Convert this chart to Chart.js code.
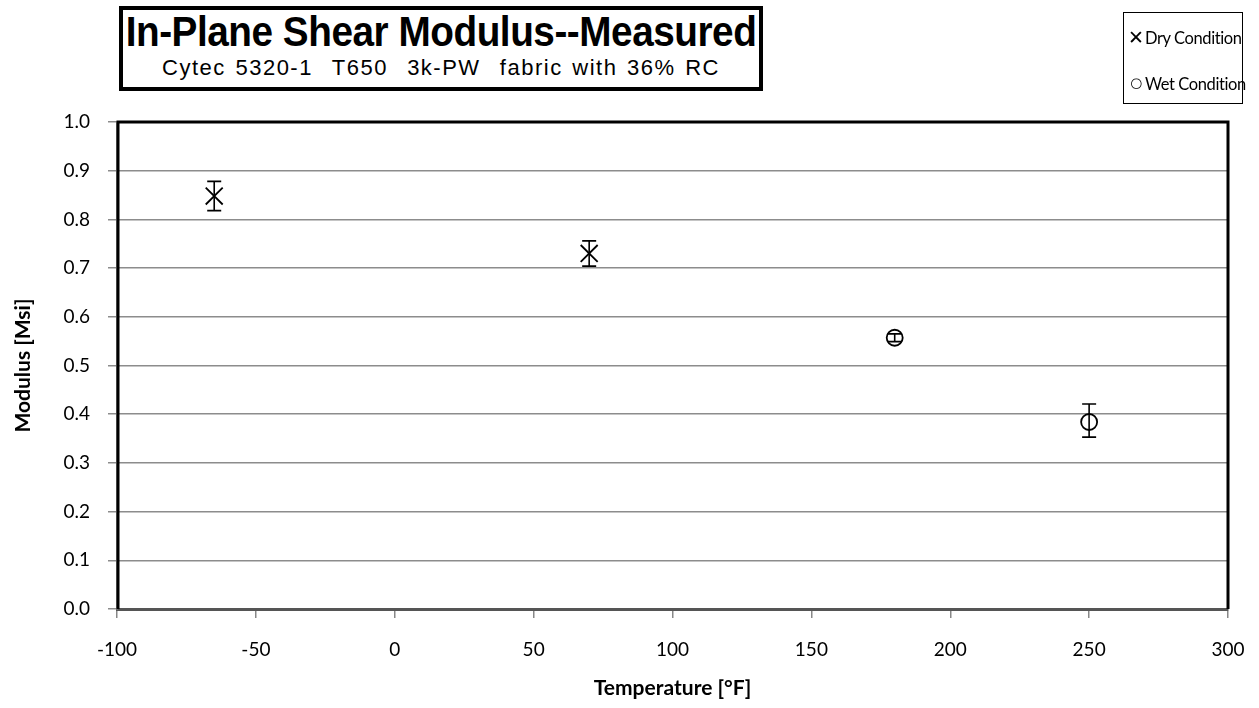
<!DOCTYPE html>
<html>
<head>
<meta charset="utf-8">
<script src="https://cdn.jsdelivr.net/npm/chart.js@4.4.1/dist/chart.umd.min.js"></script>
<style>
  html, body { margin: 0; padding: 0; background: #fff; }
  #wrap { position: relative; width: 1259px; height: 708px; }
  #titleBox {
    position: absolute; left: 119px; top: 6px; width: 636px; height: 77px;
    border: 4px solid #000; background: #fff;
    font-family: "Liberation Sans", Arial, sans-serif; color: #000; overflow: hidden;
  }
  #titleBox .main {
    position: absolute; left: 50%; top: -1px;
    font-weight: bold; font-size: 43px; line-height: 44px;
    white-space: nowrap; transform: translateX(-50%) scaleX(0.9);
    letter-spacing: -0.5px;
  }
  #titleBox .sub {
    position: absolute; left: 0; right: 0; top: 45px; text-align: center;
    font-size: 22px; line-height: 26px; white-space: pre; letter-spacing: 1.5px; word-spacing: 2px;
  }
  #legendBox {
    position: absolute; left: 1123px; top: 12px; width: 118px; height: 90px;
    border: 1.5px solid #000; background: #fff;
    font-family: Lato, "Open Sans", sans-serif; font-size: 16.5px; color: #000;
    letter-spacing: -0.4px;
  }
  #legendBox div { position: absolute; left: 3px; white-space: nowrap; }
  #legendBox span { display: inline-block; width: 18px; font-size: 19px; text-align: center; font-weight: 300; }
</style>
</head>
<body>
<div id="wrap">
  <canvas id="chart" width="1259" height="708"></canvas>
  <div id="titleBox">
    <div class="main">In-Plane Shear Modulus--Measured</div>
    <div class="sub">Cytec 5320-1  T650  3k-PW  fabric with 36% RC</div>
  </div>
  <div id="legendBox">
    <div style="top:12px"><span>&#x2715;</span>Dry Condition</div>
    <div style="top:58px"><span>&#x25CB;</span>Wet Condition</div>
  </div>
</div>
<script>
// data
const dryTemp = [-65, 70];
const dryModulus = [0.848, 0.730];
const dryLow = [0.818, 0.704];
const dryHigh = [0.878, 0.756];

const wetTemp = [180, 250];
const wetModulus = [0.557, 0.384];
const wetLow = [0.549, 0.353];
const wetHigh = [0.565, 0.421];

const xTicks = [-100, -50, 0, 50, 100, 150, 200, 250, 300];
const yTicks = [0, 0.1, 0.2, 0.3, 0.4, 0.5, 0.6, 0.7, 0.8, 0.9, 1.0];

function toPoints(xs, ys, lo, hi) {
  return xs.map((x, i) => ({ x: x, y: ys[i], lo: lo[i], hi: hi[i] }));
}

// error bars + black frame on top/right
const extras = {
  id: 'extras',
  beforeDatasetsDraw(chart) {
    const c = chart.ctx;
    const xs = chart.scales.x, ys = chart.scales.y;
    c.save();
    c.strokeStyle = '#000';
    c.lineWidth = 1.6;
    chart.data.datasets.forEach(ds => {
      ds.data.forEach(p => {
        const px = xs.getPixelForValue(p.x);
        const y1 = ys.getPixelForValue(p.lo);
        const y2 = ys.getPixelForValue(p.hi);
        c.beginPath();
        c.moveTo(px, y1); c.lineTo(px, y2);
        c.moveTo(px - 7, y1); c.lineTo(px + 7, y1);
        c.moveTo(px - 7, y2); c.lineTo(px + 7, y2);
        c.stroke();
      });
    });
    c.restore();
  },
  afterDraw(chart) {
    const a = chart.chartArea;
    const c = chart.ctx;
    c.save();
    c.strokeStyle = '#000';
    c.lineWidth = 3;
    c.beginPath();
    c.moveTo(a.left + 1, a.bottom);
    c.lineTo(a.left + 1, a.top);
    c.lineTo(a.right, a.top);
    c.lineTo(a.right, a.bottom);
    c.stroke();
    c.restore();
  }
};

new Chart(document.getElementById('chart'), {
  type: 'scatter',
  data: {
    datasets: [
      {
        label: 'Dry Condition',
        data: toPoints(dryTemp, dryModulus, dryLow, dryHigh),
        pointStyle: 'crossRot',
        pointRadius: 12,
        pointBorderWidth: 1.8,
        borderColor: '#000',
        backgroundColor: '#000'
      },
      {
        label: 'Wet Condition',
        data: toPoints(wetTemp, wetModulus, wetLow, wetHigh),
        pointStyle: 'circle',
        pointRadius: 8,
        pointBorderWidth: 1.8,
        borderColor: '#000',
        backgroundColor: 'rgba(255,255,255,0)'
      }
    ]
  },
  options: {
    responsive: false,
    animation: false,
    layout: { padding: { top: 122, right: 31, left: 0, bottom: 0 } },
    plugins: {
      legend: { display: false },
      tooltip: { enabled: false }
    },
    scales: {
      x: {
        type: 'linear',
        min: -100, max: 300,
        afterBuildTicks: s => { s.ticks = xTicks.map(v => ({ value: v })); },
        afterFit: s => { s.height = 99; s.paddingLeft = 0; s.paddingRight = 0; },
        grid: { display: true, drawOnChartArea: false, color: '#888', tickLength: 9, lineWidth: 1.5 },
        border: { color: '#555', width: 3 },
        ticks: { color: '#000', font: { family: 'Lato', size: 19 }, padding: 20 },
        title: {
          display: true, text: 'Temperature [°F]', color: '#000',
          font: { family: 'Lato', size: 21, weight: 'bold' }, padding: { top: 4, bottom: 7 }
        }
      },
      y: {
        type: 'linear',
        min: 0, max: 1.0,
        afterBuildTicks: s => { s.ticks = yTicks.map(v => ({ value: v })); },
        afterFit: s => { s.width = 117; },
        grid: { color: '#8c8c8c', tickLength: 9, lineWidth: 1.5 },
        border: { color: '#888', width: 2 },
        ticks: {
          color: '#000', font: { family: 'Lato', size: 19 }, padding: 18,
          callback: v => v.toFixed(1)
        },
        title: {
          display: true, text: 'Modulus [Msi]', color: '#000',
          font: { family: 'Lato', size: 21, weight: 'bold' }, padding: { top: 11, bottom: 0 }
        }
      }
    }
  },
  plugins: [extras]
});
</script>
</body>
</html>
